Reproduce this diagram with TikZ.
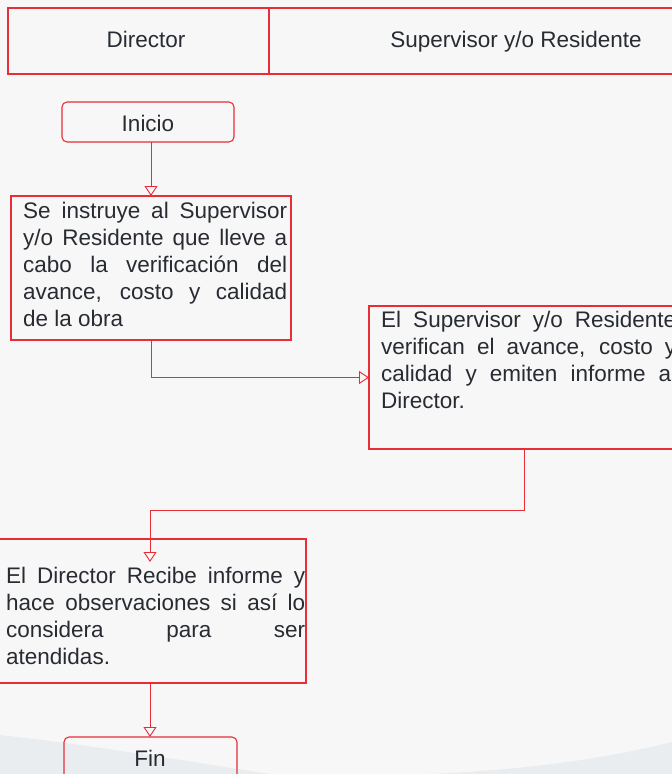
\documentclass[tikz,border=0pt]{standalone}
\usepackage{fontspec}
\setmainfont{Liberation Sans}
\usetikzlibrary{arrows.meta,calc}
\definecolor{lred}{RGB}{232,45,55}
\definecolor{txt}{RGB}{40,44,50}
\definecolor{bg}{RGB}{247,247,247}
\definecolor{wave}{RGB}{233,237,240}
\newcommand{\bodyfont}{\fontsize{22.5}{27}\selectfont\tolerance=10000\relax\hyphenpenalty=10000\relax}
\begin{document}
\begin{tikzpicture}[x=1pt,y=-1pt,
  box/.style={draw=lred,line width=1.1pt,inner sep=0pt,outer sep=0pt,anchor=north west},
  rbox/.style={box,rounded corners=5pt},
  body/.style={text=txt,font=\bodyfont,inner sep=0pt,anchor=base west,align=justify},
  lbl/.style={text=txt,font=\fontsize{22.5}{27}\selectfont,inner sep=0pt,anchor=base},
  conn/.style={draw=lred,line width=0.9pt,-{Triangle[open,length=10pt,width=13pt]}}]
\useasboundingbox (0,0) rectangle (672,774);
\clip (0,0) rectangle (672,774);
\fill[bg] (0,0) rectangle (672,774);
\fill[wave] (0,735) .. controls (90,745) and (180,760) .. (270,774) -- (0,774) -- cycle;
\fill[wave] (430,774) .. controls (520,770) and (600,760) .. (672,742) -- (672,774) -- cycle;
% header
\node[box,minimum width=261pt,minimum height=66pt] (h1) at (8,8) {};
\node[box,minimum width=420pt,minimum height=66pt] (h2) at (269,8) {};
\node[lbl] (t1) at (146,47) {Director};
\node[lbl] (t2) at (516,47) {Supervisor y/o Residente};
% inicio
\node[rbox,minimum width=172pt,minimum height=40pt] (ini) at (62,102) {};
\node[lbl] (tini) at (148,131.5) {Inicio};
% box 1
\node[box,minimum width=280pt,minimum height=144pt] (b1) at (11,196) {};
\node[body,text width=264pt] (tb1) at (23,218) {Se instruye al Supervisor\linebreak y/o Residente que lleve a\linebreak cabo la verificación del\linebreak avance, costo y calidad\linebreak de la obra};
% box 2
\node[box,minimum width=311pt,minimum height=143pt] (b2) at (369,306) {};
\node[body,text width=295pt] (tb2) at (381,327) {El Supervisor y/o Residente\linebreak verifican el avance, costo y\linebreak calidad y emiten informe al\linebreak Director.};
% box 3
\node[box,minimum width=312pt,minimum height=144pt] (b3) at (-6,539) {};
\node[body,text width=299pt] (tb3) at (6,583) {El Director Recibe informe y\linebreak hace observaciones si así lo\linebreak considera para ser\linebreak atendidas.};
% fin
\node[rbox,minimum width=173pt,minimum height=60pt] (fin) at (64,737) {};
\node[lbl] (tfin) at (150,766) {Fin};
% connectors
\draw[conn] (ini.south -| b1.north) -- (b1.north);
\draw[conn] (b1.south) |- (b2.west);
\coordinate (k) at ($(b3.north)+(0,23)$);
\draw[conn] (b2.south) -- ++(0,61) -| (k);
\draw[conn] (b3.south) -- (b3.south |- fin.north);
\end{tikzpicture}
\end{document}
